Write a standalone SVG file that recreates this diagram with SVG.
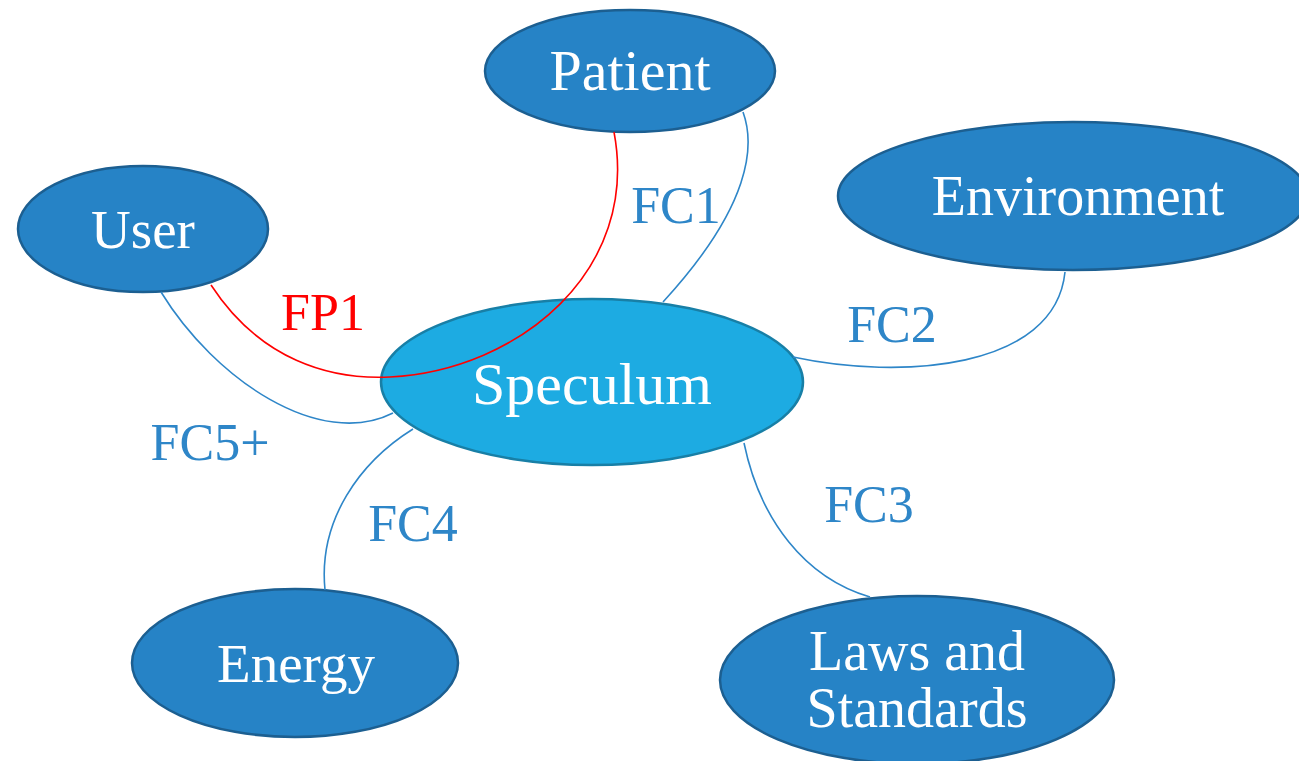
<svg xmlns="http://www.w3.org/2000/svg" width="1299" height="761" viewBox="0 0 1299 761">
<style>
.node{fill:#2683C6;stroke:#1C5F91;stroke-width:2.5}
.center{fill:#1DABE2;stroke:#187FA6;stroke-width:2.5}
.nt{font-family:"Liberation Serif",serif;fill:#ffffff;text-anchor:middle;font-size:56px}
.lbl{font-family:"Liberation Serif",serif;fill:#2E86C8;text-anchor:middle;font-size:52px}
.c{fill:none;stroke:#2E86C8;stroke-width:1.6}
.fp{fill:none;stroke:#FF0000;stroke-width:1.6}
</style>
<rect width="1299" height="761" fill="#ffffff"/>
<g id="node-patient"><ellipse class="node" cx="630" cy="71" rx="145" ry="61"/><text class="nt" x="630" y="90" style="font-size:58px">Patient</text></g>
<g id="node-user"><ellipse class="node" cx="143" cy="229" rx="125" ry="63"/><text class="nt" x="143" y="248" style="font-size:55px">User</text></g>
<g id="node-environment"><ellipse class="node" cx="1073" cy="196" rx="235" ry="74"/><text class="nt" x="1078" y="215" style="font-size:56px">Environment</text></g>
<g id="node-energy"><ellipse class="node" cx="295" cy="663" rx="163" ry="74"/><text class="nt" x="296" y="682" style="font-size:55px">Energy</text></g>
<g id="node-laws"><ellipse class="node" cx="917" cy="680" rx="197" ry="84"/><text class="nt" x="917" y="670" style="font-size:56px">Laws and</text><text class="nt" x="917" y="727" style="font-size:56px">Standards</text></g>
<g id="node-speculum"><ellipse class="center" cx="592" cy="382" rx="211" ry="83"/><text class="nt" x="592" y="404" style="font-size:60px">Speculum</text></g>
<g id="connectors">
<path class="c" d="M743,112 C755,145 752,205 663,302"/>
<path class="c" d="M793,357 C900,380 1055,370 1065,272"/>
<path class="c" d="M744,443 C760,520 805,578 870,597"/>
<path class="c" d="M413,429 C360,462 318,520 325,590"/>
<path class="c" d="M161,292 C215,380 320,450 393,413"/>
<path class="fp" d="M211,285 C260,360 330,380 390,377 C520,370 640,270 614,132"/>
</g>
<g id="labels">
<text class="lbl" x="676" y="223">FC1</text>
<text class="lbl" x="892" y="342">FC2</text>
<text class="lbl" x="869" y="522">FC3</text>
<text class="lbl" x="413" y="541">FC4</text>
<text class="lbl" x="210" y="460">FC5+</text>
<text class="lbl" x="323" y="330" style="fill:#FF0000">FP1</text>
</g>
</svg>
